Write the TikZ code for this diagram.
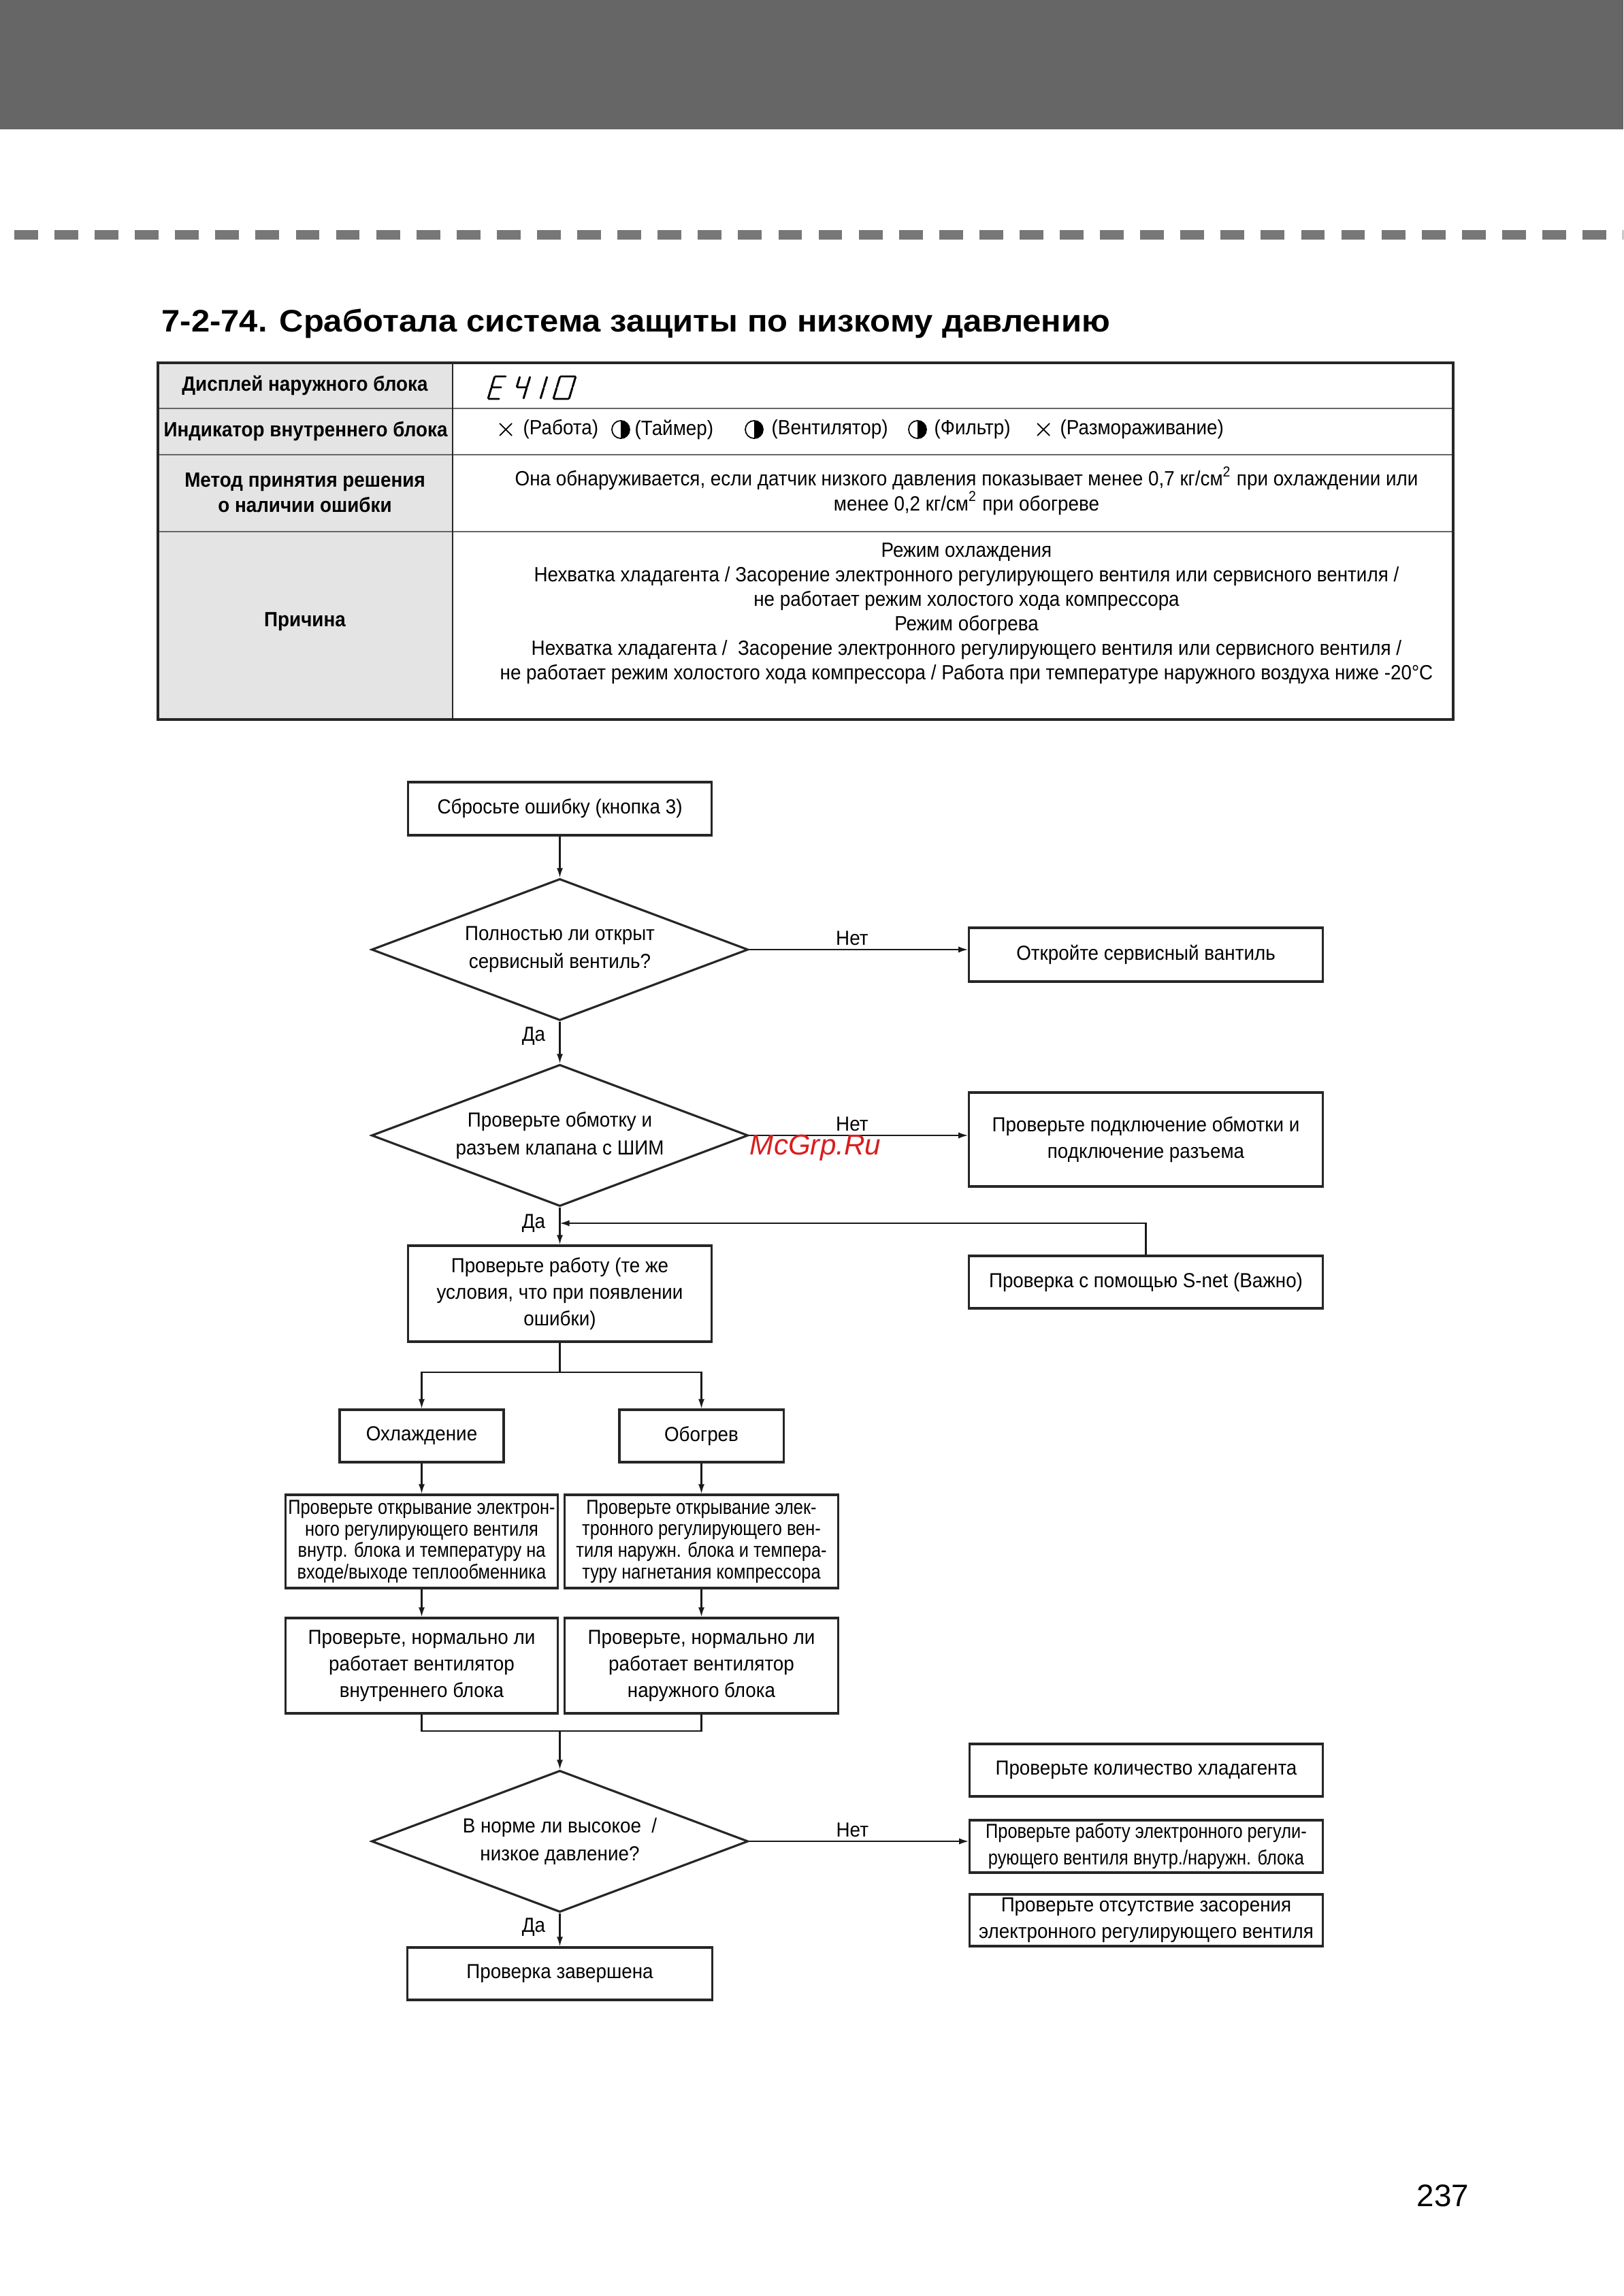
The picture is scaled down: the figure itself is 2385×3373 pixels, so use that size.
\documentclass[tikz,border=0pt]{standalone}
\usepackage{fontspec}
\setmainfont{Liberation Sans}
\newfontfamily\cf{Liberation Sans}[FakeStretch=0.93]
\newfontfamily\cft{Liberation Sans}[FakeStretch=0.92]
\newfontfamily\cfn{Liberation Sans}[FakeStretch=0.85]
\newfontfamily\cfh{Liberation Sans}[FakeStretch=1.07]
\usetikzlibrary{shapes.geometric,arrows.meta,calc}
\definecolor{topbar}{HTML}{666666}
\definecolor{dashgray}{HTML}{777777}
\definecolor{cellgray}{HTML}{E4E4E4}
\definecolor{wmred}{HTML}{D81E1E}
\begin{document}
\begin{tikzpicture}[x=0.01cm,y=-0.01cm,
  box/.style={draw=black!85, line width=0.9pt, rectangle, inner sep=0pt, align=center, font=\cf\fontsize{8.5}{11.1}\selectfont},
  dec/.style={draw=black!85, line width=0.9pt, diamond, aspect=2.66, inner sep=0pt, align=center, minimum width=5.53cm, minimum height=2.08cm, font=\cf\fontsize{8.5}{11.6}\selectfont},
  conn/.style={line width=0.6pt, draw=black!90},
  arr/.style={conn, -{Latex[length=4pt,width=2.6pt]}},
  lbl/.style={font=\cf\fontsize{8.5}{10}\selectfont, inner sep=1.5pt},
  lblda/.style={lbl, left, xshift=-0.15cm},
  tl/.style={font=\cft\bfseries\fontsize{8.6}{10.5}\selectfont, align=center},
  tt/.style={font=\cft\fontsize{8.6}{10.25}\selectfont, align=center},
  seg/.style={line width=0.85pt, line cap=round},
  xmk/.style={line width=0.5pt},
]
\fill[white] (0,0) rectangle (2385,3373);
\useasboundingbox (0,0) rectangle (2385,3373);

% header
\fill[topbar] (0,0) rectangle (2385,190);
\draw[dashgray, line width=3.7pt, dash pattern=on 9.9pt off 6.9pt] (21,345) -- (2385,345);
\node[anchor=base west, inner sep=0pt, font=\cfh\bfseries\fontsize{13}{15}\selectfont] (title) at (237,488) {7-2-74. Сработала система защиты по низкому давлению};

% table
\fill[cellgray] (232,533) rectangle (665,1057);
\draw[black!60, line width=0.8pt] (232,600) -- (2135,600);
\draw[black!60, line width=0.8pt] (232,668) -- (2135,668);
\draw[black!60, line width=0.8pt] (232,781) -- (2135,781);
\draw[black!85, line width=0.6pt] (665,533) -- (665,1057);
\draw[black!85, line width=1.3pt] (232,533) rectangle (2135,1057);

\node[tl] (r1l) at (448,566) {Дисплей наружного блока};
\node[tl] (r2l) at (449,634) {Индикатор внутреннего блока};
\node[tl] (r3l) at (448,724) {Метод принятия решения\\о наличии ошибки};
\node[tl] (r4l) at (448,913) {Причина};

% seven segment E410
\begin{scope}[shift={(717,586)}, xslant=0.3]
  \draw[seg] (1,-33) -- (16,-33) (0,-32) -- (0,-18) (0,-16) -- (0,-1) (1,-17) -- (14,-17) (1,0) -- (16,0);
\end{scope}
\begin{scope}[shift={(754,586)}, xslant=0.3]
  \draw[seg] (0,-32) -- (0,-18) (1,-17) -- (14,-17) (15,-32) -- (15,-18) (15,-16) -- (15,-1);
\end{scope}
\begin{scope}[shift={(794,586)}, xslant=0.3]
  \draw[seg] (0,-32) -- (0,-18) (0,-16) -- (0,-1);
\end{scope}
\begin{scope}[shift={(813,586)}, xslant=0.3]
  \draw[seg] (1,-33) -- (22,-33) (23,-32) -- (23,-18) (23,-16) -- (23,-1) (1,0) -- (22,0) (0,-16) -- (0,-1) (0,-32) -- (0,-18);
\end{scope}

% indicator row
\draw[xmk] (734,622) -- (752,640) (734,640) -- (752,622);
\node[tt, anchor=west, inner sep=0pt] (i1) at (768,631) {(Работа)};
\begin{scope}\clip (912,610) rectangle (930,652); \fill (912,631) circle[radius=0.13cm];\end{scope}
\draw[line width=0.5pt] (912,631) circle[radius=0.13cm];
\node[tt, anchor=west, inner sep=0pt] (i2) at (932,631) {(Таймер)};
\begin{scope}\clip (1108,610) rectangle (1126,652); \fill (1108,631) circle[radius=0.13cm];\end{scope}
\draw[line width=0.5pt] (1108,631) circle[radius=0.13cm];
\node[tt, anchor=west, inner sep=0pt] (i3) at (1133,631) {(Вентилятор)};
\begin{scope}\clip (1348,610) rectangle (1366,652); \fill (1348,631) circle[radius=0.13cm];\end{scope}
\draw[line width=0.5pt] (1348,631) circle[radius=0.13cm];
\node[tt, anchor=west, inner sep=0pt] (i4) at (1372,631) {(Фильтр)};
\draw[xmk] (1524,622) -- (1542,640) (1524,640) -- (1542,622);
\node[tt, anchor=west, inner sep=0pt] (i5) at (1557,631) {(Размораживание)};

\node[tt] (r3r) at (1420,721) {Она обнаруживается, если датчик низкого давления показывает менее 0,7 кг/см\textsuperscript{2} при охлаждении или\\менее 0,2 кг/см\textsuperscript{2} при обогреве};
\node[tt] (r4r) at (1420,901) {Режим охлаждения\\Нехватка хладагента / Засорение электронного регулирующего вентиля или сервисного вентиля /\\не работает режим холостого хода компрессора\\Режим обогрева\\Нехватка хладагента /\ \ Засорение электронного регулирующего вентиля или сервисного вентиля /\\не работает режим холостого хода компрессора / Работа при температуре наружного воздуха ниже -20°С};

% flowchart nodes
\node[box, minimum width=4.45cm, minimum height=0.78cm] (b1) at (822.5,1188) {Сбросьте ошибку (кнопка 3)};
\node[dec] (d1) at (822.5,1395) {Полностью ли открыт\\сервисный вентиль?};
\node[box, minimum width=5.19cm, minimum height=0.79cm] (b2) at (1683.5,1402.5) {Откройте сервисный вантиль};
\node[dec] (d2) at (822.5,1668) {Проверьте обмотку и\\разъем клапана с ШИМ};
\node[box, minimum width=5.19cm, minimum height=1.38cm] (b3) at (1683.5,1674) {Проверьте подключение обмотки и\\подключение разъема};
\node[box, minimum width=5.19cm, minimum height=0.77cm] (bs) at (1683.5,1883.5) {Проверка с помощью S-net (Важно)};
\node[box, minimum width=4.45cm, minimum height=1.41cm] (b4) at (822.5,1900.5) {Проверьте работу (те же\\условия, что при появлении\\ошибки)};
\node[box, minimum width=2.41cm, minimum height=0.77cm] (cool) at (619.5,2109.5) {Охлаждение};
\node[box, minimum width=2.41cm, minimum height=0.77cm] (heat) at (1030.5,2109.5) {Обогрев};
\node[box, minimum width=3.99cm, minimum height=1.37cm, font=\cfn\fontsize{8.5}{9}\selectfont] (coolv) at (619.5,2264.5) {Проверьте открывание электрон-\\ного регулирующего вентиля\\внутр. блока и температуру на\\входе/выходе теплообменника};
\node[box, minimum width=4.01cm, minimum height=1.37cm, font=\cfn\fontsize{8.5}{9}\selectfont] (heatv) at (1030.5,2264.5) {Проверьте открывание элек-\\тронного регулирующего вен-\\тиля наружн. блока и темпера-\\туру нагнетания компрессора};
\node[box, minimum width=3.99cm, minimum height=1.40cm] (coolf) at (619.5,2447) {Проверьте, нормально ли\\работает вентилятор\\внутреннего блока};
\node[box, minimum width=4.01cm, minimum height=1.40cm] (heatf) at (1030.5,2447) {Проверьте, нормально ли\\работает вентилятор\\наружного блока};
\node[dec] (d3) at (822.5,2705) {В норме ли высокое\ \ /\\низкое давление?};
\node[box, minimum width=5.18cm, minimum height=0.77cm] (q1) at (1684,2600.5) {Проверьте количество хладагента};
\node[box, minimum width=5.18cm, minimum height=0.77cm, font=\cfn\fontsize{8.5}{11.1}\selectfont] (q2) at (1684,2712.5) {Проверьте работу электронного регули-\\рующего вентиля внутр./наружн. блока};
\node[box, minimum width=5.18cm, minimum height=0.76cm] (q3) at (1684,2821) {Проверьте отсутствие засорения\\электронного регулирующего вентиля};
\node[box, minimum width=4.47cm, minimum height=0.77cm] (fin) at (822.5,2899.5) {Проверка завершена};

% connectors
\draw[arr] (b1.south) -- (d1.north);
\draw[arr] (d1.east) -- (d1.east -| b2.west) node[lbl, above, pos=0.47] {Нет};
\draw[arr] (d1.south) -- (d2.north) node[lblda, pos=0.35] {Да};
\draw[arr] (d2.east) -- (d2.east -| b3.west) node[lbl, above, pos=0.47] {Нет};
\draw[arr] (d2.south) -- (b4.north) node[lblda, pos=0.43] {Да};
\coordinate (fb) at (822.5,1797);
\draw[arr] (bs.north) |- (fb);
\coordinate (split) at (822.5,2016);
\draw[conn] (b4.south) -- (split);
\draw[arr] (split) -| (cool.north);
\draw[arr] (split) -| (heat.north);
\draw[arr] (cool.south) -- (coolv.north);
\draw[arr] (heat.south) -- (heatv.north);
\draw[arr] (coolv.south) -- (coolf.north);
\draw[arr] (heatv.south) -- (heatf.north);
\coordinate (merge) at (822.5,2543);
\draw[conn] (coolf.south) |- (merge) -| (heatf.south);
\draw[arr] (merge) -- (d3.north);
\draw[arr] (d3.east) -- (d3.east -| q2.west) node[lbl, above, pos=0.47] {Нет};
\draw[arr] (d3.south) -- (fin.north) node[lblda, pos=0.43] {Да};

% watermark and page number
\node[font=\itshape\fontsize{12}{13}\selectfont, text=wmred] (wm) at (1198,1686) {McGrp.Ru};
\node[font=\fontsize{13}{14}\selectfont] (pg) at (2120,3226) {237};
\end{tikzpicture}
\end{document}
